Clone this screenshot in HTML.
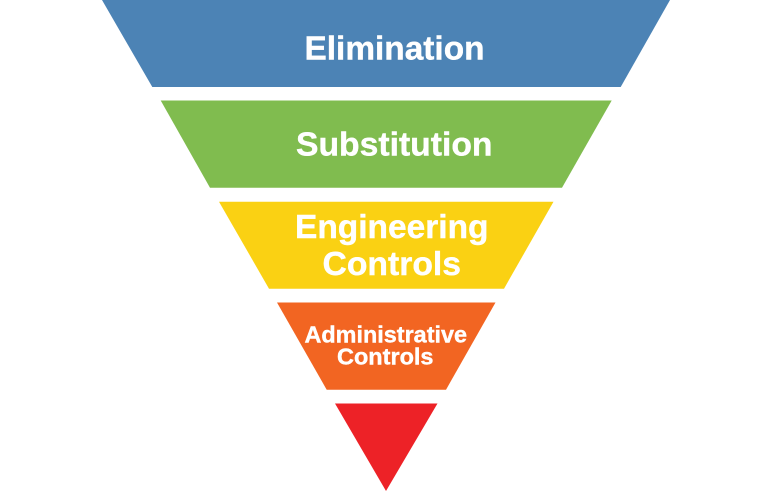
<!DOCTYPE html>
<html>
<head>
<meta charset="utf-8">
<style>
html,body{margin:0;padding:0;background:#fff;width:768px;height:492px;overflow:hidden}
svg{display:block}
text{font-family:"Liberation Sans",Arial,sans-serif;font-weight:bold;fill:#fff;stroke:#fff;stroke-width:.4px}
</style>
</head>
<body>
<svg width="768" height="492" viewBox="0 0 768 492" xmlns="http://www.w3.org/2000/svg">
<rect width="768" height="492" fill="#fff"/>
<polygon points="102,0 670,0 620.7,87 152.3,87" fill="#4c83b5"/>
<polygon points="160.7,100.5 611.7,100.5 562,187.7 210,187.7" fill="#80bc4f"/>
<polygon points="219,201.7 553.5,201.7 504,288.7 269,288.7" fill="#fad113"/>
<polygon points="277,302.5 495.5,302.5 446,389.7 326.7,389.7" fill="#f26522"/>
<polygon points="335,403.5 437.5,403.5 386,491" fill="#ed2227"/>
<text x="304.5" y="59.7" font-size="33.5" textLength="180" lengthAdjust="spacingAndGlyphs">Elimination</text>
<text x="296" y="155.7" font-size="33.5" textLength="196.5" lengthAdjust="spacingAndGlyphs">Substitution</text>
<text x="295" y="238" font-size="33.5" textLength="193.5" lengthAdjust="spacingAndGlyphs">Engineering</text>
<text x="322.5" y="275" font-size="33.5" textLength="138.5" lengthAdjust="spacingAndGlyphs">Controls</text>
<text x="304.5" y="342.5" font-size="23" textLength="162.5" lengthAdjust="spacingAndGlyphs">Administrative</text>
<text x="337" y="364.5" font-size="23" textLength="96.5" lengthAdjust="spacingAndGlyphs">Controls</text>
</svg>
</body>
</html>
